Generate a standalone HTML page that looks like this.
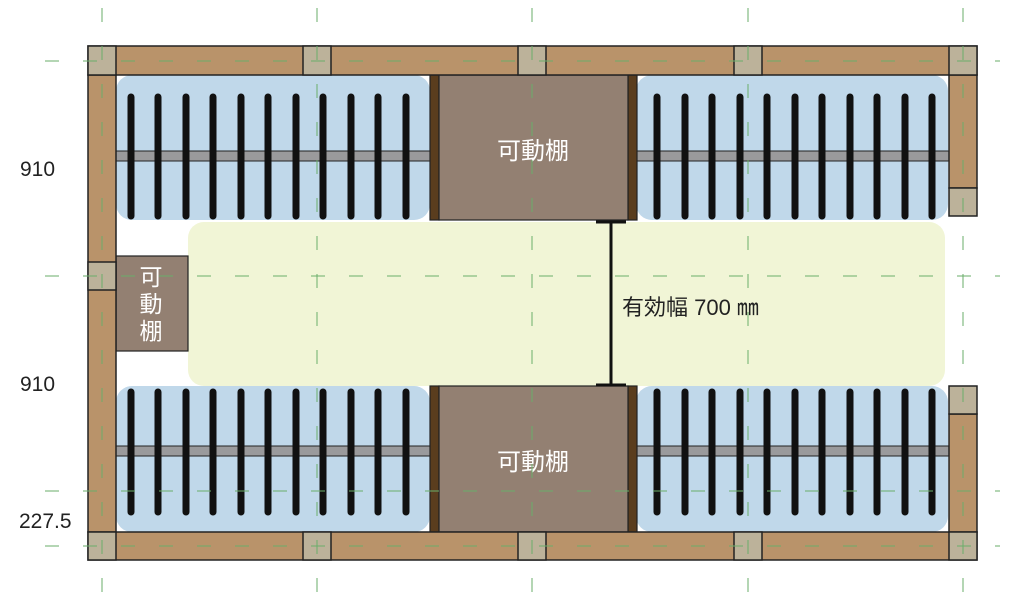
<!DOCTYPE html>
<html><head><meta charset="utf-8"><style>
html,body{margin:0;padding:0;background:#fff;width:1024px;height:608px;overflow:hidden}
svg{display:block}
text{font-family:"Liberation Sans","Noto Sans CJK JP",sans-serif}
</style></head><body>
<svg width="1024" height="608" viewBox="0 0 1024 608" xmlns="http://www.w3.org/2000/svg">
<rect x="188" y="222" width="757" height="164" rx="16" fill="#f1f5d6"/>
<g fill="#c0d8ea">
<rect x="116" y="75" width="314" height="145" rx="16"/>
<rect x="636" y="75" width="312" height="145" rx="16"/>
<rect x="116" y="386" width="314" height="146" rx="16"/>
<rect x="636" y="386" width="312" height="146" rx="16"/>
</g>
<g fill="#9a9a9c" stroke="#222" stroke-width="1">
<rect x="116" y="151" width="314" height="10"/>
<rect x="636" y="151" width="313" height="10"/>
<rect x="116" y="446" width="314" height="10"/>
<rect x="636" y="446" width="313" height="10"/>
</g>
<g stroke="#111" stroke-width="7" stroke-linecap="round">
<path d="M131 97V216M158 97V216M186 97V216M213 97V216M241 97V216M268 97V216M296 97V216M323 97V216M351 97V216M378 97V216M406 97V216"/>
<path d="M657 97V216M685 97V216M712 97V216M740 97V216M767 97V216M795 97V216M822 97V216M850 97V216M877 97V216M905 97V216M932 97V216"/>
<path d="M131 392V512M158 392V512M186 392V512M213 392V512M241 392V512M268 392V512M296 392V512M323 392V512M351 392V512M378 392V512M406 392V512"/>
<path d="M657 392V512M685 392V512M712 392V512M740 392V512M767 392V512M795 392V512M822 392V512M850 392V512M877 392V512M905 392V512M932 392V512"/>
</g>
<g stroke="#222" stroke-width="1.2">
<rect x="430" y="75" width="9" height="145" fill="#5a3d1e"/>
<rect x="628" y="75" width="9" height="145" fill="#5a3d1e"/>
<rect x="439" y="75" width="189" height="145" fill="#938072"/>
<rect x="430" y="386" width="9" height="146" fill="#5a3d1e"/>
<rect x="628" y="386" width="9" height="146" fill="#5a3d1e"/>
<rect x="439" y="386" width="189" height="146" fill="#938072"/>
<rect x="116" y="256" width="72" height="95" fill="#938072"/>
</g>
<text x="533" y="159" font-size="24" fill="#fff" text-anchor="middle">可動棚</text>
<text x="533" y="470" font-size="24" fill="#fff" text-anchor="middle">可動棚</text>
<text x="151" y="285" font-size="23" fill="#fff" text-anchor="middle">可</text>
<text x="151" y="312" font-size="23" fill="#fff" text-anchor="middle">動</text>
<text x="151" y="339" font-size="23" fill="#fff" text-anchor="middle">棚</text>
<g stroke="#222" stroke-width="1.5" fill="#b9936a">
<rect x="88" y="46" width="889" height="29"/>
<rect x="88" y="532" width="889" height="28"/>
<rect x="88" y="75" width="28" height="457"/>
<rect x="949" y="75" width="28" height="113"/>
<rect x="949" y="414" width="28" height="118"/>
</g>
<g stroke="#222" stroke-width="1.5" fill="#bcb29a">
<rect x="88" y="46" width="28" height="29"/><rect x="303" y="46" width="28" height="29"/><rect x="518" y="46" width="28" height="29"/><rect x="734" y="46" width="28" height="29"/><rect x="949" y="46" width="28" height="29"/>
<rect x="88" y="532" width="28" height="28"/><rect x="303" y="532" width="28" height="28"/><rect x="518" y="532" width="28" height="28"/><rect x="734" y="532" width="28" height="28"/><rect x="949" y="532" width="28" height="28"/>
<rect x="88" y="262" width="28" height="28"/>
<rect x="949" y="188" width="28" height="28"/>
<rect x="949" y="386" width="28" height="28"/>
</g>
<g stroke="#111" stroke-width="3">
<path d="M611 222V385M596 222H626M596 385H626"/>
</g>
<text x="622" y="315" font-size="22" fill="#222">有効幅 700 ㎜</text>
<g stroke="#6aae6a" stroke-width="1" stroke-dasharray="14,24" fill="none">
<path d="M102 8V604M317 8V604M532 8V604M748 8V604M963 8V604"/>
<path d="M45 61H1000M45 276H1000M45 491H1000M45 546H1000"/>
</g>
<g font-size="21" fill="#222">
<text x="20" y="176">910</text>
<text x="20" y="391">910</text>
<text x="19" y="528">227.5</text>
</g>
</svg>
</body></html>
